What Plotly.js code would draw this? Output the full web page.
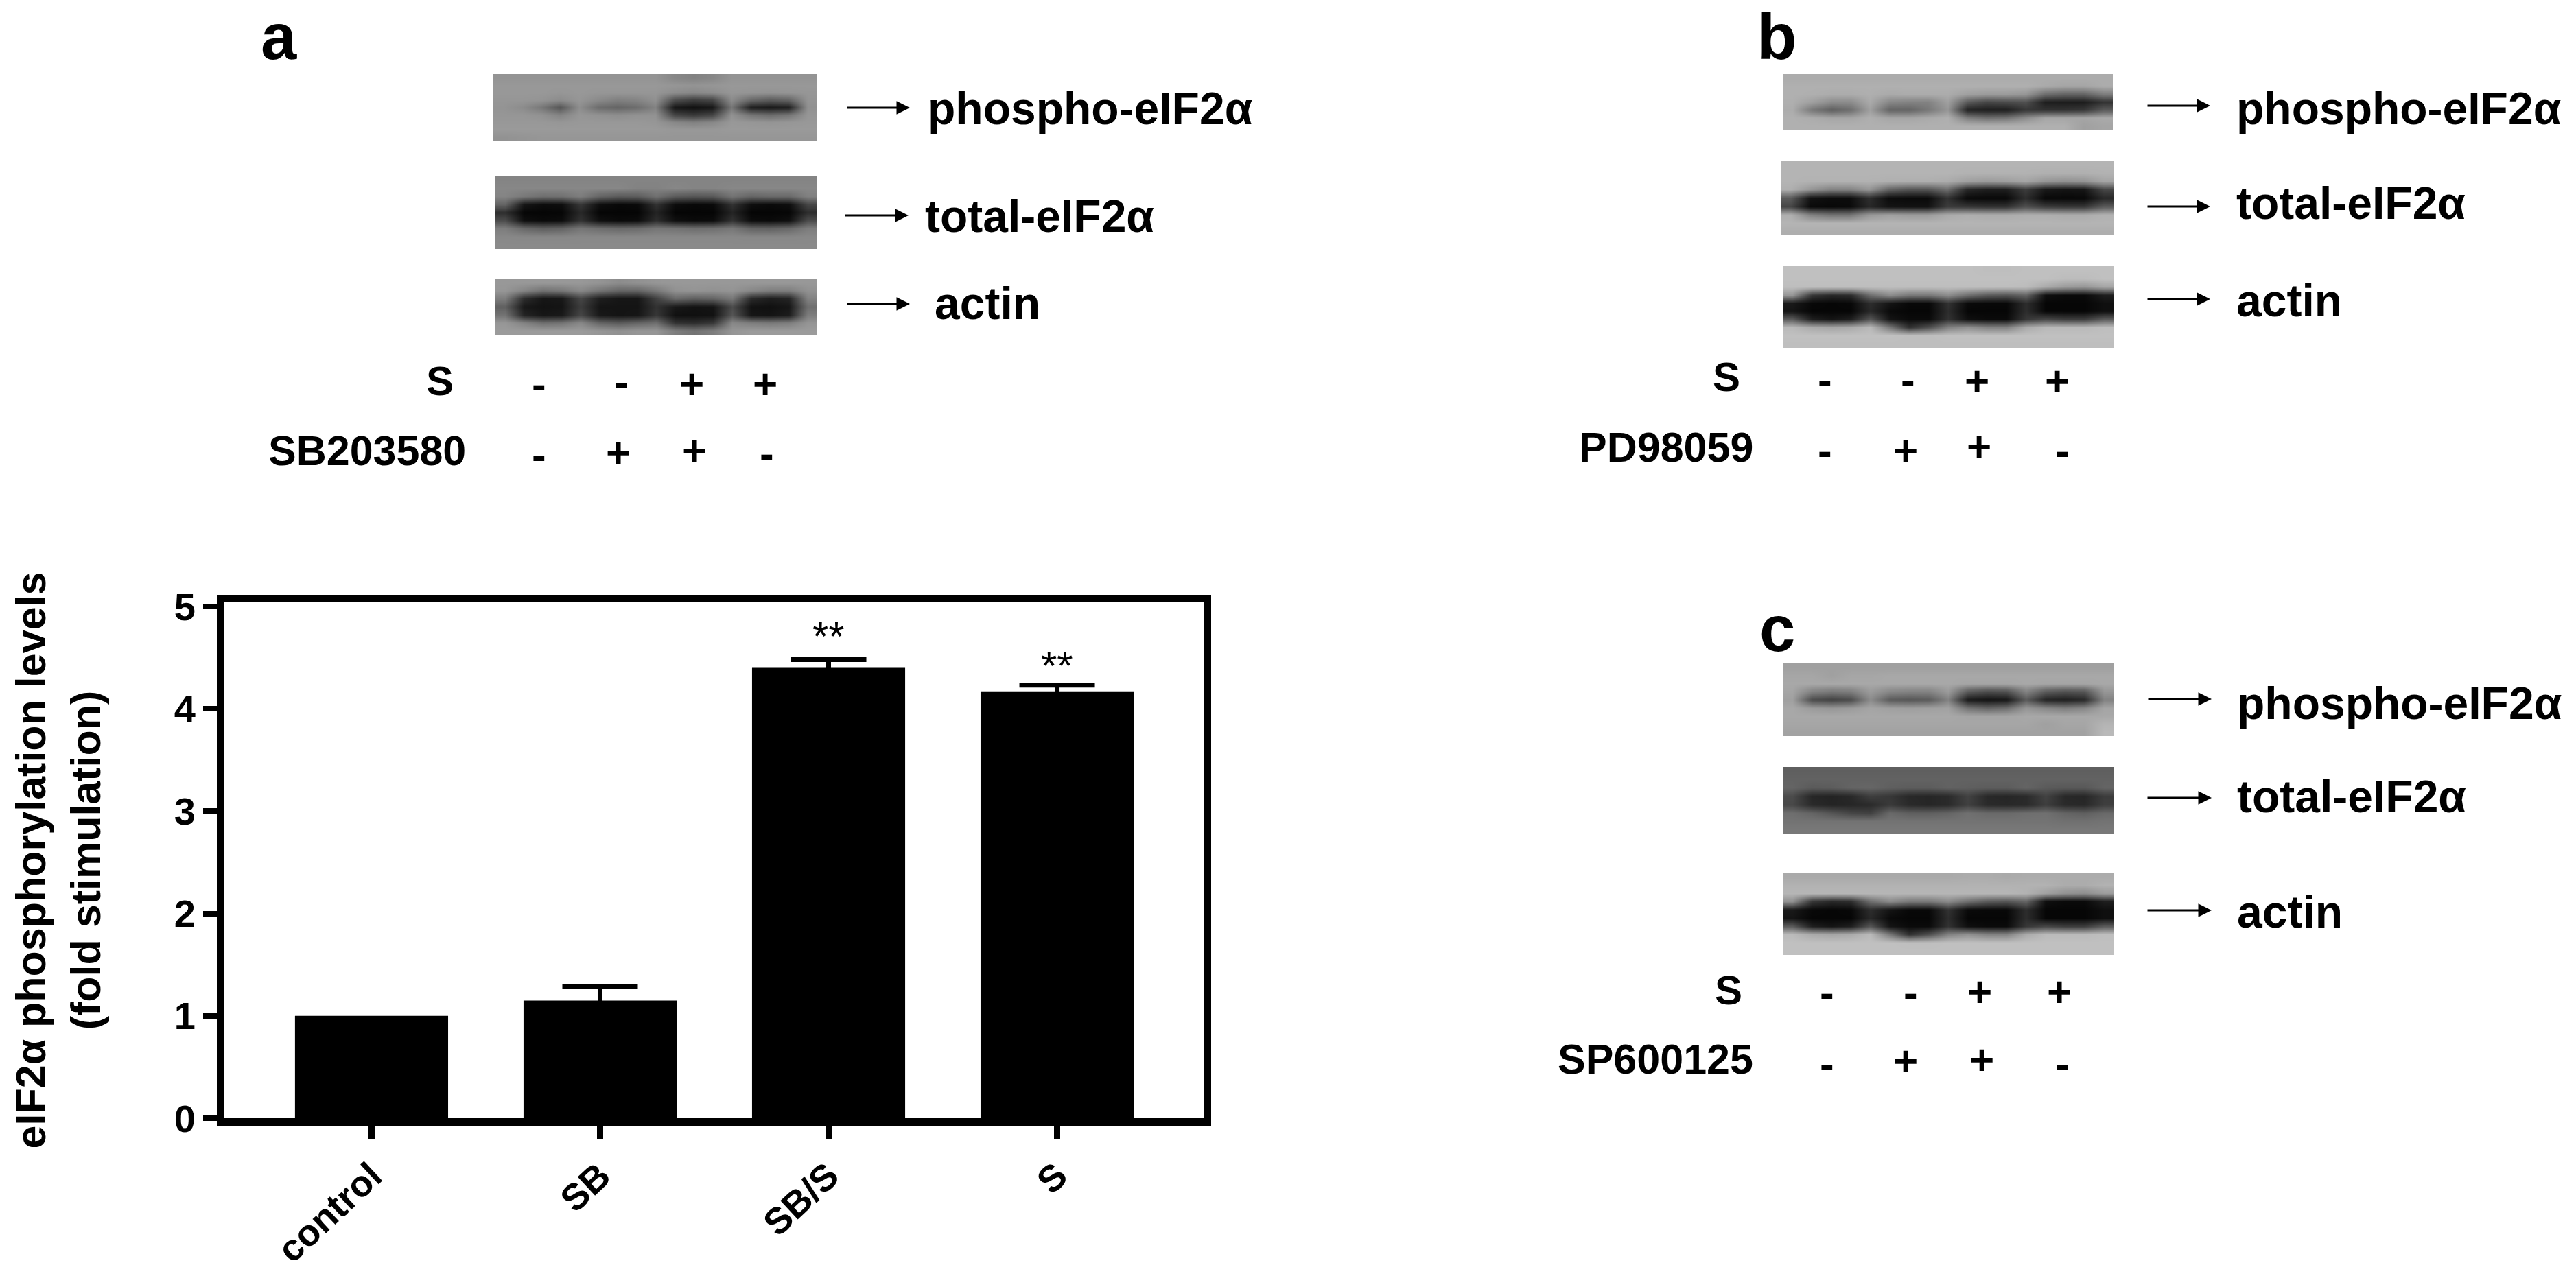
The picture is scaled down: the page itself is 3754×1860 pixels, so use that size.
<!DOCTYPE html>
<html>
<head>
<meta charset="utf-8">
<script src="https://cdn.plot.ly/plotly-3.0.1.min.js"></script>
<style>html,body{margin:0;padding:0;background:#fff}</style>
</head>
<body>
<div id="fig" style="width:3754px;height:1860px"></div>
<script>
const groups=['control','SB','SB/S','S'];
const foldValues=[1.0,1.15,4.40,4.17];
const foldErrors=[NaN,0.14,0.08,0.06];
const sigMarks=['','','**','**'];
const yTicks=[0,1,2,3,4,5];

const proteins=['phospho-eIF2α','total-eIF2α','actin'];
const stimRow=['-','-','+','+'];
const inhibRow=['-','+','+','-'];

// blot grey levels read by eye, 17 columns across the membrane
const blotA1=[
[148,148,148,148,148,148,148,148,148,135,130,135,148,148,148,148,148],
[152,152,152,152,152,152,152,152,152,150,148,150,152,152,152,152,152],
[152,152,152,150,152,150,150,150,150,140,135,140,150,148,146,148,150],
[150,150,148,140,150,138,128,132,145,78,62,70,140,105,92,100,148],
[148,140,120,85,142,108,100,108,130,22,16,22,118,30,24,30,145],
[150,150,146,132,150,146,142,146,146,70,58,70,146,118,108,118,150],
[152,152,152,150,152,152,152,152,150,135,128,135,152,150,148,150,152],
[154,154,154,154,154,154,154,154,154,152,152,152,154,154,154,154,154],
[146,148,150,150,150,150,150,150,150,150,150,150,150,150,150,150,150]];
const blotA2=[
[132,132,132,132,132,132,132,132,132,132,132,132,132,132,132,132,132],
[135,135,135,135,135,135,135,130,130,135,132,132,135,135,135,135,135],
[132,120,110,112,125,100,90,92,112,90,85,88,115,100,105,105,128],
[100,22,12,14,55,14,8,10,50,12,8,10,50,14,10,14,70],
[45,6,5,6,40,5,5,5,35,5,5,5,35,5,5,6,45],
[75,15,10,12,50,15,10,12,45,15,10,12,50,12,10,15,75],
[125,105,95,100,118,110,105,108,118,115,110,112,120,100,98,105,125],
[136,135,135,135,136,136,136,136,136,136,136,136,136,135,135,135,136],
[138,138,138,138,138,138,138,138,138,138,138,138,138,138,138,138,138]];
const blotA3=[
[152,152,152,152,152,148,140,145,150,152,152,152,152,152,152,152,152],
[150,132,112,118,135,115,100,100,120,145,148,145,148,135,125,125,145],
[125,45,22,24,70,30,22,22,65,105,95,100,120,42,30,36,130],
[95,24,18,20,60,20,20,20,50,24,18,20,75,18,16,22,110],
[115,36,22,25,70,24,20,22,55,16,16,18,85,22,20,28,125],
[150,130,110,115,135,100,90,100,110,50,45,55,135,125,120,125,148],
[155,155,155,155,155,150,145,150,150,125,115,125,150,155,155,155,155]];
const blotB1=[
[172,172,172,172,172,172,172,172,172,172,172,172,172,172,172,172,172],
[176,176,176,176,176,176,176,176,176,176,176,176,176,170,165,165,172],
[176,175,172,172,175,170,172,172,172,160,155,155,150,110,100,100,125],
[175,160,140,140,170,135,130,130,160,90,70,75,80,30,28,28,50],
[172,120,95,110,160,100,100,120,150,35,30,30,55,50,50,55,90],
[176,172,165,165,175,165,165,170,175,125,110,115,140,165,165,165,170],
[176,176,176,176,176,176,176,176,176,176,176,176,176,176,176,160,165]];
const blotB2=[
[180,180,180,180,180,180,180,180,180,180,180,180,180,180,180,180,180],
[180,180,180,180,180,180,180,180,180,178,178,178,178,176,176,176,178],
[180,178,178,178,178,176,175,175,172,160,155,158,165,150,145,148,165],
[175,150,130,130,150,100,85,85,110,40,30,30,60,25,20,22,70],
[90,18,12,12,45,12,10,10,50,10,8,8,45,8,8,8,40],
[70,10,8,10,40,20,18,18,60,55,50,50,80,60,55,55,90],
[175,130,115,115,150,160,155,155,170,175,172,172,175,175,172,172,178],
[180,180,180,180,180,180,180,180,180,180,180,180,180,180,180,180,180],
[174,174,174,174,174,174,174,174,174,174,174,174,174,174,174,174,174]];
const blotB3=[
[192,192,192,192,192,192,192,192,192,192,190,190,192,192,192,192,192],
[192,192,192,192,192,192,192,192,192,192,192,192,192,192,188,188,192],
[190,190,190,190,190,190,190,190,190,190,190,190,188,170,155,150,165],
[150,55,40,45,110,140,120,120,140,110,90,85,100,15,10,10,30],
[25,8,6,8,45,20,8,8,50,10,8,8,45,6,6,6,15],
[20,6,6,6,40,10,6,6,45,6,6,6,45,6,6,6,15],
[90,30,20,30,85,20,10,10,50,15,10,10,55,70,60,60,90],
[185,170,165,170,185,120,50,80,130,145,130,130,170,185,185,185,190],
[192,192,192,192,192,192,190,190,192,192,192,192,192,192,192,192,192],
[190,190,190,190,190,190,190,190,190,190,190,190,190,190,190,190,190]];
const blotC1=[
[160,160,160,160,160,160,160,160,160,160,160,160,160,160,160,160,160],
[166,166,160,166,166,168,168,168,168,168,168,168,168,168,168,168,168],
[168,168,168,168,168,168,168,168,168,165,165,165,168,165,165,165,168],
[165,130,120,125,155,135,130,130,155,90,75,80,130,90,80,85,150],
[160,75,65,75,140,90,85,90,130,25,18,22,90,35,30,40,130],
[168,155,150,155,165,160,158,160,162,115,100,110,150,135,125,135,165],
[168,168,168,168,168,168,168,168,168,165,165,165,168,168,168,168,168],
[166,166,166,166,166,166,166,166,166,166,166,166,166,160,166,166,180],
[162,162,162,162,162,162,162,162,162,162,162,162,162,162,162,162,185]];
const blotC2=[
[95,95,95,95,95,95,95,95,95,95,95,95,95,95,95,95,95],
[98,98,98,98,98,98,98,98,98,98,98,98,98,98,98,98,98],
[100,90,92,100,102,95,92,92,98,95,92,92,100,90,88,88,100],
[75,38,35,40,62,55,40,38,42,66,40,38,42,66,40,38,60],
[72,42,36,38,42,58,42,38,42,64,42,40,42,62,42,40,62],
[110,100,85,70,65,105,95,95,100,112,105,105,110,112,100,95,105],
[115,115,115,115,115,115,115,115,115,115,115,115,115,115,112,112,115],
[120,120,120,120,120,120,120,120,120,120,120,120,120,120,120,120,120]];
const blotC3=[
[170,170,170,170,170,170,170,170,170,172,172,170,172,172,172,172,172],
[178,178,178,178,178,178,178,178,178,178,178,178,178,178,172,172,178],
[182,182,182,182,182,182,182,182,182,182,182,182,178,160,145,140,155],
[145,55,40,45,110,138,120,120,138,110,90,85,100,15,10,10,30],
[25,8,6,8,45,20,8,8,50,10,8,8,45,6,6,6,15],
[20,6,6,6,40,10,6,6,45,6,6,6,45,6,6,6,15],
[90,30,20,30,85,20,10,10,50,15,10,10,55,70,60,60,90],
[186,170,165,170,186,120,50,80,130,145,130,130,170,186,186,186,190],
[192,192,192,192,192,192,190,190,192,192,192,192,192,192,192,192,192],
[192,192,192,192,192,192,192,192,192,192,192,192,192,192,192,192,192]];

const W=3754,H=1860;
const fontName='"Liberation Sans", Arial, sans-serif';

// page layout of panels, in page pixels
const panels=[
 {letter:'a',lx:378,ly:53,ls:94,inhib:'SB203580',
  blots:[{z:blotA1,l:719,r:1191,t:108,b:205},{z:blotA2,l:722,r:1191,t:256,b:363},{z:blotA3,l:722,r:1191,t:406,b:488}],
  arrows:[[1233,1326,157],[1230,1324,314],[1233,1326,443]],
  labels:[[1350,158],[1346,315],[1360,442]],
  s:[663,555],inh:[681,657],
  stimX:[785,905,1008,1115],stimY:[559,556,559,559],
  inhX:[785,901,1012,1117],inhY:[662,659,656,660]},
 {letter:'b',lx:2559,ly:53,ls:94,inhib:'PD98059',
  blots:[{z:blotB1,l:2598,r:3079,t:108,b:189},{z:blotB2,l:2595,r:3080,t:234,b:343},{z:blotB3,l:2598,r:3080,t:388,b:507}],
  arrows:[[3128,3221,154],[3128,3221,301],[3128,3221,436]],
  labels:[[3257,158],[3257,296],[3257,438]],
  s:[2538,549],inh:[2557,652],
  stimX:[2659,2780,2881,2998],stimY:[553,553,555,555],
  inhX:[2659,2777,2884,3005],inhY:[656,656,650,656]},
 {letter:'c',lx:2562,ly:916,ls:94,inhib:'SP600125',
  blots:[{z:blotC1,l:2598,r:3080,t:967,b:1073},{z:blotC2,l:2598,r:3080,t:1118,b:1215},{z:blotC3,l:2598,r:3080,t:1272,b:1392}],
  arrows:[[3130,3223,1019],[3128,3223,1163],[3128,3223,1327]],
  labels:[[3258,1025],[3258,1161],[3258,1329]],
  s:[2541,1443],inh:[2557,1544],
  stimX:[2662,2784,2885,3001],stimY:[1446,1446,1445,1445],
  inhX:[2662,2777,2888,3005],inhY:[1550,1546,1544,1550]}
];

const traces=[{
  type:'bar',x:groups,y:foldValues,
  marker:{color:'#000',line:{width:0}},
  error_y:{type:'data',symmetric:true,array:foldErrors,color:'#000',thickness:7,width:55},
  hoverinfo:'x+y'
}];
const annots=[];

function pageText(text,x,y,size,anchor,weight){
  annots.push({text:text,x:x,y:y,xref:'x2',yref:'y2',showarrow:false,xanchor:anchor,yanchor:'middle',
    font:{family:fontName,size:size,color:'#000',weight:weight||700}});
}

panels.forEach(p=>{
  pageText(p.letter,p.lx,p.ly,p.ls,'left');
  p.blots.forEach(b=>{
    const nx=b.z[0].length,ny=b.z.length;
    const dx=(b.r-b.l)/nx,dy=(b.b-b.t)/ny;
    traces.push({type:'heatmap',z:b.z,xaxis:'x2',yaxis:'y2',
      x0:b.l+dx/2,dx:dx,y0:b.t+dy/2,dy:dy,
      zmin:0,zmax:255,zsmooth:'best',showscale:false,hoverinfo:'skip',
      colorscale:[[0,'#000'],[1,'#fff']]});
  });
  p.arrows.forEach(a=>{
    annots.push({text:'',x:a[1],y:a[2],ax:a[0],ay:a[2],xref:'x2',yref:'y2',axref:'x2',ayref:'y2',
      showarrow:true,arrowhead:2,arrowsize:1.3,arrowwidth:3,arrowcolor:'#000'});
  });
  p.labels.forEach((l,i)=>pageText(proteins[i],l[0],l[1],66,'left'));
  pageText('S',p.s[0],p.s[1],60,'right');
  pageText(p.inhib,p.inh[0],p.inh[1],61,'right');
  stimRow.forEach((m,i)=>pageText(m,p.stimX[i],p.stimY[i],62,'center'));
  inhibRow.forEach((m,i)=>pageText(m,p.inhX[i],p.inhY[i],62,'center'));
});

// significance stars sit above the error bars, in data units
const starY=[0,0,4.71,4.42];
sigMarks.forEach((m,i)=>{
  if(!m)return;
  annots.push({text:m,x:groups[i],y:starY[i],xref:'x',yref:'y',showarrow:false,yanchor:'middle',
    font:{family:fontName,size:60,color:'#000'}});
});

const layout={
  width:W,height:H,showlegend:false,
  margin:{l:0,r:0,t:0,b:0},
  paper_bgcolor:'#fff',plot_bgcolor:'rgba(0,0,0,0)',
  font:{family:fontName,color:'#000'},
  bargap:0.33,
  xaxis:{domain:[327/W,1754/W],anchor:'y',type:'category',range:[-0.644,3.641],
    showline:true,mirror:true,linecolor:'#000',linewidth:11,
    ticks:'outside',ticklen:20,tickwidth:9,tickcolor:'#000',tickangle:-43,showgrid:false,zeroline:false,
    tickfont:{family:fontName,size:54,color:'#000',weight:700}},
  yaxis:{domain:[1-1630/H,1-878/H],anchor:'x',range:[0,5.04],tickvals:yTicks,
    showline:true,mirror:true,linecolor:'#000',linewidth:11,
    ticks:'outside',ticklen:20,tickwidth:8,tickcolor:'#000',showgrid:false,zeroline:false,
    tickfont:{family:fontName,size:56,color:'#000',weight:700},
    title:{text:'eIF2α phosphorylation levels<br>(fold stimulation)',standoff:92,
      font:{family:fontName,size:61,color:'#000',weight:700}}},
  xaxis2:{domain:[0,1],range:[0,W],anchor:'y2',visible:false,fixedrange:true},
  yaxis2:{domain:[0,1],range:[H,0],anchor:'x2',visible:false,fixedrange:true},
  annotations:annots
};

Plotly.newPlot('fig',traces,layout,{staticPlot:true});
</script>
</body>
</html>
